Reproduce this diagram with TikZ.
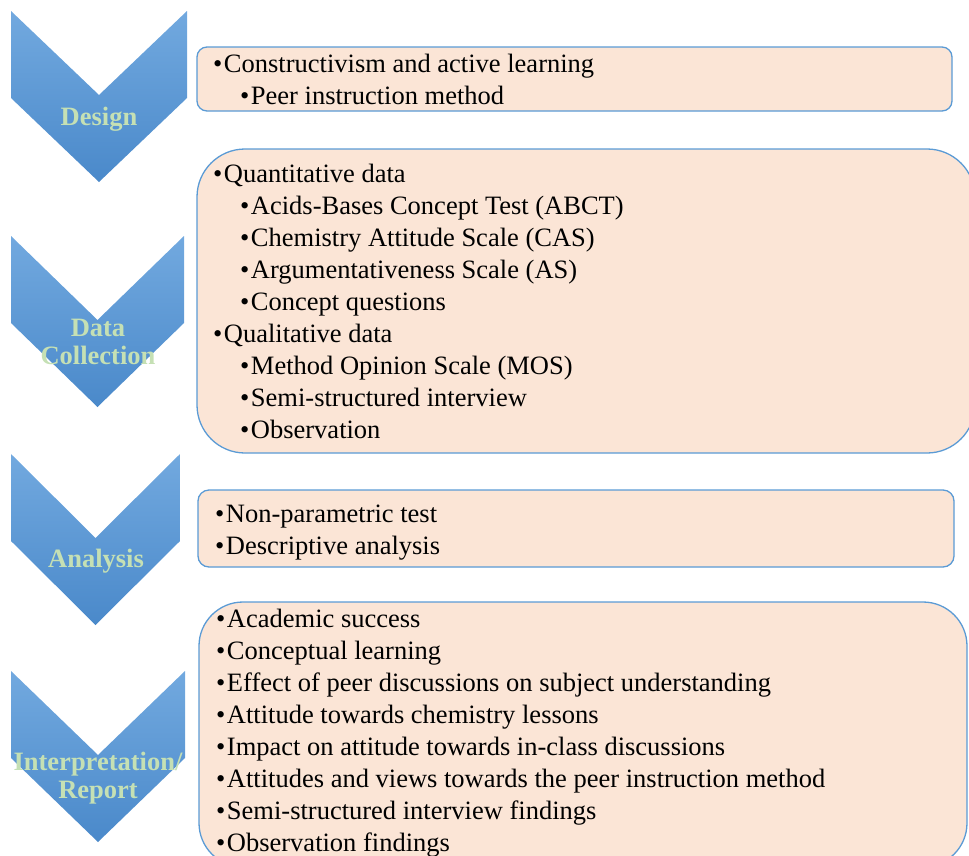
\documentclass[tikz,border=0pt]{standalone}
\usepackage{fontspec}
\setmainfont{Liberation Serif}
\usetikzlibrary{positioning}

\definecolor{stagetop}{HTML}{72A9DF}
\definecolor{stagebot}{HTML}{4A89CA}
\definecolor{stagegreen}{HTML}{C5E0B4}
\definecolor{boxfill}{HTML}{FBE5D6}
\definecolor{boxline}{HTML}{5B9BD5}

\newcommand\bitem{\textbullet\hspace{1.5pt}}
\newcommand\sbitem{\hspace*{27pt}\bitem}

\begin{document}
\begin{tikzpicture}[
    x=1pt, y=-1pt,
    stage/.style={top color=stagetop, bottom color=stagebot},
    stagelabel/.style={font=\fontsize{26.5}{27.5}\selectfont\bfseries, text=stagegreen, align=center, inner sep=0pt},
    itembox/.style={draw=boxline, fill=boxfill, line width=1.3pt, rounded corners=#1, inner sep=0pt},
    items/.style={font=\fontsize{26.5}{32}\selectfont, align=left, anchor=base west, inner sep=0pt}
]
\useasboundingbox (0,0) rectangle (969,855);
\clip (0,0) rectangle (969,855);

% the four stage chevrons
\foreach \l/\r/\t in {11/187/11, 11/184/236, 11/180/454, 11/185/671}
  \shade[stage] (\l,\t) -- ({(\l+\r)/2},\t+84) -- (\r,\t) -- (\r,\t+87)
    -- ({(\l+\r)/2},\t+171) -- (\l,\t+87) -- cycle;

\node[stagelabel] (design) at (99,119) {Design};
\node[stagelabel] (collection) at (98,342) {Data\\Collection};
\node[stagelabel] (analysis) at (96,561) {Analysis};
\node[stagelabel] (report) at (98,778) {Interpretation/\\Report};

% content boxes
\node[itembox=10pt, minimum width=755pt, minimum height=64pt] (designbox) at (574.5,79) {};
\node[itembox=48pt, minimum width=778pt, minimum height=304pt] (collectionbox) at (586,301) {};
\node[itembox=11pt, minimum width=756pt, minimum height=77pt] (analysisbox) at (576,528.5) {};
\node[itembox=44pt, minimum width=768pt, minimum height=265pt] (reportbox) at (583,734.5) {};

% item lists, placed by the baseline of their last line
\node[items] (designitems) at (213,104) {\bitem Constructivism and active learning\\
  \sbitem Peer instruction method};
\node[items] (collectionitems) at (213,438) {\bitem Quantitative data\\
  \sbitem Acids-Bases Concept Test (ABCT)\\
  \sbitem Chemistry Attitude Scale (CAS)\\
  \sbitem Argumentativeness Scale (AS)\\
  \sbitem Concept questions\\
  \bitem Qualitative data\\
  \sbitem Method Opinion Scale (MOS)\\
  \sbitem Semi-structured interview\\
  \sbitem Observation};
\node[items] (analysisitems) at (215,554) {\bitem Non-parametric test\\
  \bitem Descriptive analysis};
\node[items] (reportitems) at (216,851) {\bitem Academic success\\
  \bitem Conceptual learning\\
  \bitem Effect of peer discussions on subject understanding\\
  \bitem Attitude towards chemistry lessons\\
  \bitem Impact on attitude towards in-class discussions\\
  \bitem Attitudes and views towards the peer instruction method\\
  \bitem Semi-structured interview findings\\
  \bitem Observation findings};
\end{tikzpicture}
\end{document}
